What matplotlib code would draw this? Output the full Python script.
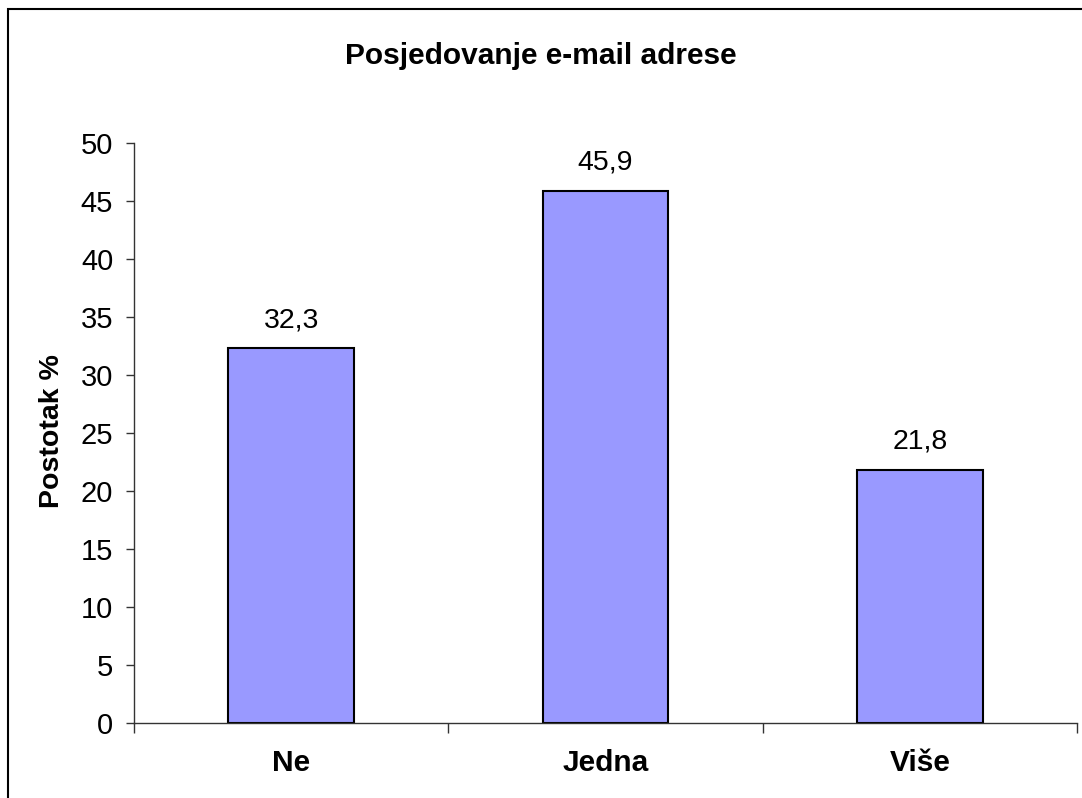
import matplotlib
matplotlib.use("Agg")
import matplotlib.pyplot as plt
from matplotlib.patches import Rectangle

# --- data ---
categories = ["Ne", "Jedna", "Više"]
values = [32.3, 45.9, 21.8]
value_labels = ["32,3", "45,9", "21,8"]
y_ticks = [0, 5, 10, 15, 20, 25, 30, 35, 40, 45, 50]

plt.rcParams['font.family'] = ['Liberation Sans', 'DejaVu Sans']

fig = plt.figure(figsize=(10.82, 7.98), dpi=100, facecolor='white')

# chart frame (runs off the bottom/right edges like the screenshot)
fig.patches.append(Rectangle((8 / 1082, -0.05), 1.2, 1.05 - 9 / 798,
                             transform=fig.transFigure, fill=False,
                             edgecolor='black', linewidth=1.5, zorder=0))

ax = fig.add_axes([134 / 1082, 1 - 723 / 798, 943 / 1082, 580 / 798])
x = list(range(len(categories)))
ax.bar(x, values, width=0.4, color='#9999FF', edgecolor='black', linewidth=1.5, zorder=2)

for xi, v, lab in zip(x, values, value_labels):
    ax.annotate(lab, (xi, v), xytext=(0, 11), textcoords='offset points',
                ha='center', va='bottom', fontsize=20.5)

ax.set_xlim(-0.5, 2.5)
ax.set_ylim(0, 50)
ax.set_yticks(y_ticks)
ax.set_xticks(x)
ax.set_xticklabels(categories, fontsize=21.5, fontweight='bold')
ax.set_xticks([-0.5, 0.5, 1.5, 2.5], minor=True)
ax.tick_params(axis='x', which='major', length=0, pad=19)
ax.tick_params(axis='x', which='minor', length=7, width=1, direction='out', color='#333333')
ax.tick_params(axis='y', length=6, width=1, direction='out', labelsize=21, pad=9, color='#333333')

for s in ['top', 'right']:
    ax.spines[s].set_visible(False)
for s in ['left', 'bottom']:
    ax.spines[s].set_color('#333333')
    ax.spines[s].set_linewidth(1)

fig.text(0.5, 1 - 56 / 798, "Posjedovanje e-mail adrese", ha='center', va='center',
         fontsize=21.5, fontweight='bold')
fig.text(52 / 1082, 1 - 431 / 798, "Postotak %", ha='center', va='center',
         rotation=90, fontsize=20.5, fontweight='bold')

fig.savefig("out.png", dpi=100, facecolor='white')
